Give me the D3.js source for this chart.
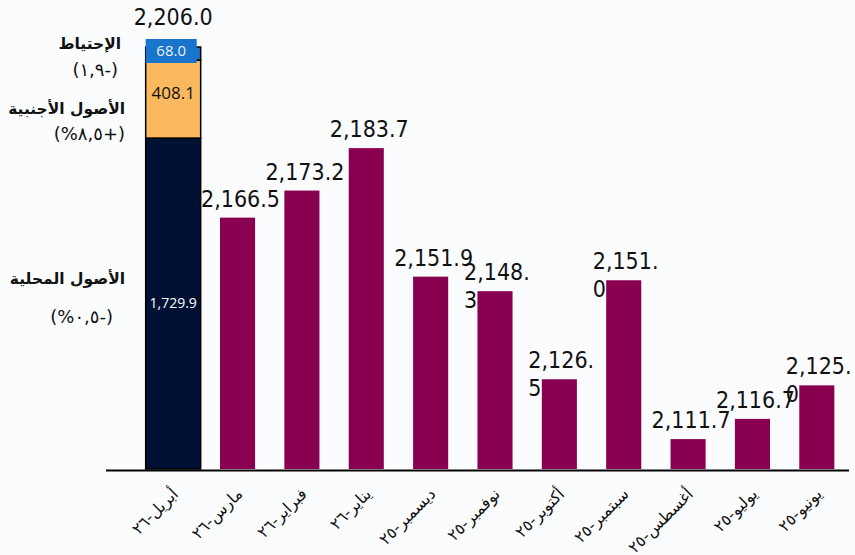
<!DOCTYPE html>
<html>
<head>
<meta charset="utf-8">
<script src="https://cdn.jsdelivr.net/npm/d3@7"></script>
<style>
  body { margin: 0; background: #fbfcfe; }
  svg { display: block; }
</style>
</head>
<body>
<div id="chart"></div>
<script>
// months, newest first (as in the original)
var months = ["أبريل-٢٦", "مارس-٢٦", "فبراير-٢٦", "يناير-٢٦", "ديسمبر-٢٥", "نوفمبر-٢٥",
              "أكتوبر-٢٥", "سبتمبر-٢٥", "أغسطس-٢٥", "يوليو-٢٥", "يونيو-٢٥"];
// total assets (first month is drawn as a stack below)
var totals = [2206.0, 2166.5, 2173.2, 2183.7, 2151.9, 2148.3, 2126.5, 2151.0, 2111.7, 2116.7, 2125.0];
// labels that wrap onto a second line in the original
var wrapped = [false, false, false, false, false, true, true, true, false, false, true];

// breakdown of the latest month
var stackNames = ["الأصول المحلية", "الأصول الأجنبية", "الإحتياط"];
var stackChange = ["(%٠,٥-)", "(%٨,٥+)", "(١,٩-)"];
var stackValues = [1729.9, 408.1, 68.0];
var stackColors = ["#001133", "#fbb95f", "#1874cc"];

var width = 855, height = 555;
var base = 469;

var svg = d3.select("#chart")
    .append("svg")
    .attr("width", width)
    .attr("height", height);

var x = d3.scaleBand()
    .domain(months)
    .range([141, 849])
    .paddingInner(0.455)
    .paddingOuter(0.2275);

// monthly bars use a cut axis
var y = d3.scaleLinear()
    .domain([2104.3, 2206])
    .range([base, 58]);

// the stacked bar starts from zero
var yStack = d3.scaleLinear()
    .domain([0, d3.sum(stackValues)])
    .range([base, 47]);

var valueFont = "'DejaVu Sans', sans-serif";
var fmt = d3.format(",.1f");

// monthly bars (skip first one)
var rest = months.slice(1).map((m, i) => ({ m: m, v: totals[i + 1], wrap: wrapped[i + 1] }));

svg.selectAll("rect.month")
    .data(rest)
    .enter()
    .append("rect")
    .attr("class", "month")
    .attr("x", d => x(d.m))
    .attr("y", d => y(d.v))
    .attr("width", x.bandwidth())
    .attr("height", d => base - y(d.v))
    .attr("fill", "#88004f");

// value labels
var labels = svg.selectAll("text.val")
    .data(rest)
    .enter()
    .append("text")
    .attr("class", "val")
    .style("font-family", valueFont)
    .style("font-stretch", "condensed")
    .style("font-size", "23px")
    .attr("fill", "#111");

labels.filter(d => !d.wrap)
    .attr("x", d => x(d.m) + x.bandwidth() / 2 + 3)
    .attr("y", d => y(d.v) - 11)
    .attr("text-anchor", "middle")
    .text(d => fmt(d.v));

labels.filter(d => d.wrap)
    .each(function (d) {
        var s = fmt(d.v);
        var t = d3.select(this);
        var x0 = x(d.m) + x.bandwidth() / 2 - 31;
        t.append("tspan").attr("x", x0).attr("y", y(d.v) - 11).text(s.slice(0, -1));
        t.append("tspan").attr("x", x0).attr("y", y(d.v) + 17).text(s.slice(-1));
    });

// stacked bar for the latest month
var first = months[0];
var bw = 55;
var bx = x(first) + x.bandwidth() / 2 - bw / 2;
var cum = 0;
var segs = stackValues.map((v, i) => {
    var s = { v: v, y0: cum, y1: cum + v, i: i };
    cum += v;
    return s;
});

svg.selectAll("rect.seg")
    .data(segs)
    .enter()
    .append("rect")
    .attr("class", "seg")
    .attr("x", bx)
    .attr("y", d => yStack(d.y1))
    .attr("width", bw)
    .attr("height", d => yStack(d.y0) - yStack(d.y1))
    .attr("fill", d => stackColors[d.i])
    .attr("stroke", "#000")
    .attr("stroke-width", 1.5);

// label box on the small top segment
var topSeg = segs[2];
var boxTop = yStack(topSeg.y1) - 8, boxBottom = yStack(topSeg.y0) + 3;
svg.append("rect")
    .attr("x", bx)
    .attr("y", boxTop)
    .attr("width", bw - 4)
    .attr("height", boxBottom - boxTop)
    .attr("fill", stackColors[2]);

function segMid(d) {
    if (d.i === 2) return (boxTop + boxBottom) / 2;
    var m = (yStack(d.y0) + yStack(d.y1)) / 2;
    return d.i === 1 ? m - 6 : m;
}
var segText = [
    { size: 14, color: "#fff" },
    { size: 17, color: "#111" },
    { size: 15, color: "#e8f0fa" }
];
svg.selectAll("text.seg")
    .data(segs)
    .enter()
    .append("text")
    .attr("class", "seg")
    .attr("x", d => d.i === 2 ? bx + (bw - 4) / 2 : bx + bw / 2)
    .attr("y", segMid)
    .attr("dy", "0.35em")
    .attr("text-anchor", "middle")
    .style("font-family", "'Open Sans', sans-serif")
    .style("font-size", d => segText[d.i].size + "px")
    .attr("fill", d => segText[d.i].color)
    .text(d => fmt(d.v));

svg.append("text")
    .attr("x", bx + bw / 2)
    .attr("y", 25)
    .attr("text-anchor", "middle")
    .style("font-family", valueFont)
    .style("font-stretch", "condensed")
    .style("font-size", "23px")
    .attr("fill", "#111")
    .text(fmt(totals[0]));

// names of the stack parts, to the left
var nameY = [284, 114, 49];
var nameX = [125, 125, 121];
var changeY = [323, 140, 76];
var changeX = [113, 125, 118];
stackNames.forEach((n, i) => {
    svg.append("text")
        .attr("x", nameX[i])
        .attr("y", nameY[i])
        .attr("text-anchor", "end")
        .style("font-family", "'DejaVu Sans', sans-serif")
        .style("font-weight", "bold")
        .style("font-size", "15.5px")
        .attr("fill", "#111")
        .text(n);
    svg.append("text")
        .attr("x", changeX[i])
        .attr("y", changeY[i])
        .attr("text-anchor", "end")
        .style("font-family", "'DejaVu Sans', sans-serif")
        .style("font-size", "18px")
        .style("direction", "ltr")
        .style("unicode-bidi", "bidi-override")
        .attr("fill", "#111")
        .text(stackChange[i]);
});

// baseline
svg.append("line")
    .attr("x1", 106).attr("x2", 849)
    .attr("y1", base + 1.5).attr("y2", base + 1.5)
    .attr("stroke", "#000")
    .attr("stroke-width", 2);

// month labels, rotated
svg.selectAll("text.month")
    .data(months)
    .enter()
    .append("text")
    .attr("class", "month")
    .attr("text-anchor", "end")
    .attr("transform", d => "translate(" + (x(d) + x.bandwidth() / 2 + 6) + "," + 495 + ") rotate(-45)")
    .style("font-family", "'DejaVu Sans', sans-serif")
    .style("font-size", "16px")
    .attr("fill", "#111")
    .text(d => d);
</script>
</body>
</html>
